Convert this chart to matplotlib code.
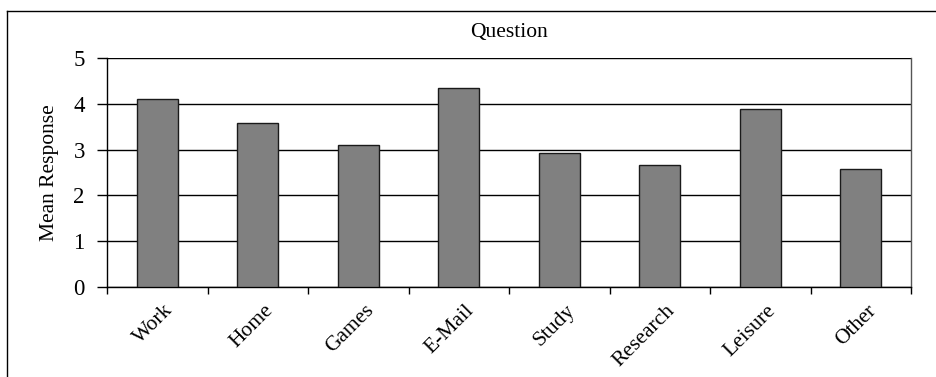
import matplotlib
matplotlib.use("Agg")
import matplotlib.pyplot as plt
from matplotlib.lines import Line2D
from matplotlib.transforms import ScaledTranslation

# Mean response per question category
categories = ["Work", "Home", "Games", "E-Mail", "Study", "Research", "Leisure", "Other"]
mean_response = [4.10, 3.59, 3.09, 4.35, 2.92, 2.67, 3.89, 2.58]
y_ticks = [0, 1, 2, 3, 4, 5]

plt.rcParams["font.family"] = ["Liberation Serif", "DejaVu Serif"]
plt.rcParams["font.size"] = 15.5

W, H = 936, 377
fig = plt.figure(figsize=(W / 100, H / 100), dpi=100)

# plot area in pixel coordinates
left, right, top, bottom = 107, 911, 58, 287
ax = fig.add_axes([left / W, 1 - bottom / H, (right - left) / W, (bottom - top) / H])

x = list(range(len(categories)))
ax.bar(x, mean_response, width=0.41, color="#808080", edgecolor="#1a1a1a",
       linewidth=1.0, zorder=3)

ax.set_xlim(-0.5, len(categories) - 0.5)
ax.set_ylim(0, 5)
ax.set_yticks(y_ticks)
ax.yaxis.grid(True, color="black", linewidth=1.0, zorder=0)
ax.set_axisbelow(True)

# category boundaries carry the tick marks, labels sit under the bars
ax.set_xticks([i - 0.5 for i in range(len(categories) + 1)])
ax.set_xticklabels([])
ax.tick_params(axis="x", direction="out", length=5, width=1, color="black")
ax.tick_params(axis="y", direction="out", length=7, width=1, color="black",
               labelsize=16.5, pad=9)

offset = ScaledTranslation(6 / 100, -14 / 100, fig.dpi_scale_trans)
for i, name in enumerate(categories):
    ax.text(i, 0, name, rotation=45, rotation_mode="anchor", ha="right", va="top",
            fontsize=15.5, transform=ax.get_xaxis_transform() + offset)

for side in ["left", "bottom", "right"]:
    ax.spines[side].set_color("black")
    ax.spines[side].set_linewidth(1.0)
ax.spines["right"].set_color("#555555")
ax.spines["top"].set_visible(False)

ax.set_ylabel("Mean Response", fontsize=15.5, labelpad=10)
ax.set_title("Question", fontsize=15.5, pad=15)

# chart frame (top and left edges)
fig.add_artist(Line2D([7 / W, 1], [1 - 11 / H, 1 - 11 / H], color="black", linewidth=1.0,
                      transform=fig.transFigure))
fig.add_artist(Line2D([7 / W, 7 / W], [0, 1 - 11 / H], color="black", linewidth=1.0,
                      transform=fig.transFigure))

fig.savefig("out.png", dpi=100)
